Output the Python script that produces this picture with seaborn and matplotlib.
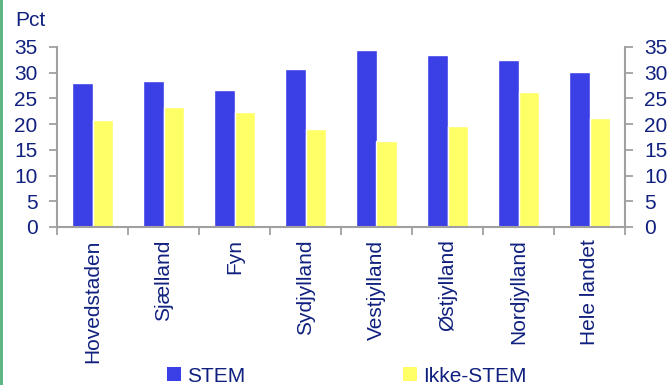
import matplotlib
matplotlib.use("Agg")
import matplotlib.pyplot as plt
import seaborn as sns
import pandas as pd
from matplotlib.patches import Rectangle

categories = ["Hovedstaden", "Sjælland", "Fyn", "Sydjylland", "Vestjylland",
              "Østjylland", "Nordjylland", "Hele landet"]
stem = [28.0, 28.4, 26.7, 30.7, 34.4, 33.5, 32.4, 30.2]
ikke_stem = [20.8, 23.3, 22.4, 19.1, 16.7, 19.7, 26.3, 21.2]
series_names = ["STEM", "Ikke-STEM"]
yticks = [0, 5, 10, 15, 20, 25, 30, 35]

df = pd.DataFrame({
    "region": categories * 2,
    "value": stem + ikke_stem,
    "serie": [series_names[0]] * len(categories) + [series_names[1]] * len(categories),
})

sns.set_theme(style="white")
plt.rcParams['font.family'] = ['Liberation Sans', 'DejaVu Sans']

navy = "#10207E"
spine_c = "#A0A0A0"
blue = "#3B3FE6"
yellow = "#FFFF66"
fs = 15

fig = plt.figure(figsize=(6.71, 3.85), dpi=100)
ax = fig.add_axes([57 / 671, 1 - 227 / 385, (625 - 57) / 671, (227 - 47) / 385])

sns.barplot(data=df, x="region", y="value", hue="serie", palette=[blue, yellow],
            width=0.58, errorbar=None, ax=ax, legend=False, saturation=1)

ax.set_ylim(0, 35)
ax.set_xlim(-0.5, len(categories) - 0.5)
ax.set_xlabel("")
ax.set_ylabel("")
ax.set_yticks(yticks)
ax.set_yticklabels([str(t) for t in yticks])
ax.set_xticks(range(len(categories)))
ax.set_xticklabels(categories, rotation=90, fontsize=fs, color=navy)
ax.set_xticks([i - 0.5 for i in range(len(categories) + 1)], minor=True)
ax.tick_params(axis="x", which="major", length=0, pad=9)
ax.tick_params(axis="x", which="minor", length=6, width=1.3, color=spine_c, direction="out", bottom=True)
ax.tick_params(axis="y", which="major", length=6, width=1.3, color=spine_c, direction="out",
               labelsize=fs, labelcolor=navy, left=True, pad=8)

for s in ["left", "right", "bottom"]:
    ax.spines[s].set_visible(True)
    ax.spines[s].set_color(spine_c)
    ax.spines[s].set_linewidth(1.5)
ax.spines["top"].set_visible(False)

ax2 = ax.twinx()
ax2.set_ylim(ax.get_ylim())
ax2.set_yticks(yticks)
ax2.set_yticklabels([str(t) for t in yticks])
ax2.tick_params(axis="y", which="major", length=6, width=1.3, color=spine_c, direction="out",
                labelsize=fs, labelcolor=navy, right=True, pad=8)
for s in ["left", "right", "bottom", "top"]:
    ax2.spines[s].set_visible(False)
ax2.grid(False)
ax.grid(False)

fig.text(15 / 671, 1 - 20 / 385, "Pct", fontsize=fs, color=navy, va="center", ha="left")

handles = [Rectangle((0, 0), 1, 1, facecolor=c, edgecolor="none") for c in [blue, yellow]]
fig.legend(handles, series_names, loc="center", bbox_to_anchor=(0.517, 1 - 376 / 385),
           ncol=2, frameon=False, fontsize=fs, labelcolor=navy, handlelength=0.65,
           handleheight=0.65, handletextpad=0.3, columnspacing=7.6, borderaxespad=0, borderpad=0)

fig.patches.append(Rectangle((0, 0), 3 / 671, 1, transform=fig.transFigure,
                             facecolor="#5FB583", edgecolor="none"))

fig.savefig("out.png", dpi=100)
